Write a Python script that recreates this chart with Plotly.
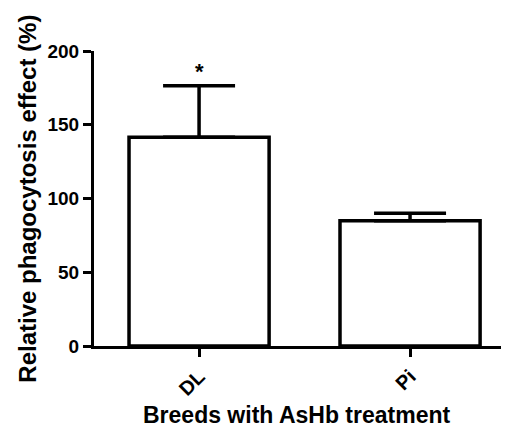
import plotly.graph_objects as go

categories = ["DL", "Pi"]
values = [141.5, 85.0]
errors = [35.0, 5.0]
y_ticks = [0, 50, 100, 150, 200]

FONT = "Liberation Sans, Arial, sans-serif"

fig = go.Figure()
fig.add_trace(go.Bar(
    x=categories, y=values, width=0.664,
    marker=dict(color="white", line=dict(color="black", width=3.5)),
    error_y=dict(type="data", symmetric=False, array=errors, arrayminus=[0, 0],
                 color="black", thickness=3.5, width=36),
    showlegend=False,
))

fig.add_annotation(x="DL", y=values[0] + errors[0], yref="y", xref="x",
                   text="*", showarrow=False, yanchor="bottom", yshift=0,
                   font=dict(family=FONT, size=22, color="black", weight="bold"))

fig.add_annotation(x=-0.161, y=0.5, xref="paper", yref="paper",
                   text="Relative phagocytosis effect (%)", textangle=-90,
                   showarrow=False, xanchor="center", yanchor="middle",
                   font=dict(family=FONT, size=24, color="black", weight="bold"))
fig.add_annotation(x=0.487, y=-0.234, xref="paper", yref="paper",
                   text="Breeds with AsHb treatment",
                   showarrow=False, xanchor="center", yanchor="middle",
                   font=dict(family=FONT, size=23, color="black", weight="bold"))

fig.update_layout(
    width=501, height=422,
    margin=dict(l=86, r=0, t=43, b=84),
    plot_bgcolor="white", paper_bgcolor="white",
    font=dict(family=FONT, color="black"),
    xaxis=dict(range=[-0.498, 1.469], showline=True, linecolor="black", linewidth=3,
               ticks="outside", ticklen=8, tickwidth=3, tickcolor="black",
               tickangle=-45, showgrid=False, zeroline=False,
               tickfont=dict(family=FONT, size=20, color="black", weight="bold")),
    yaxis=dict(range=[0, 200], tickvals=y_ticks, showline=True, linecolor="black",
               linewidth=3, ticks="outside", ticklen=8, tickwidth=3, tickcolor="black",
               showgrid=False, zeroline=False,
               tickfont=dict(family=FONT, size=19, color="black", weight="bold")),
)

fig.write_html("out.html")
